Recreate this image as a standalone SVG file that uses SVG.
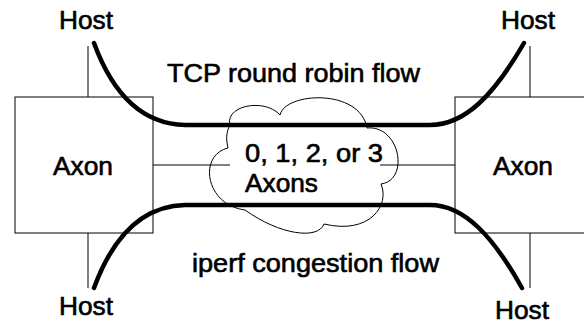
<svg xmlns="http://www.w3.org/2000/svg" width="584" height="324" viewBox="0 0 584 324">
<style>
.t{font-family:"Liberation Sans",Arial,sans-serif;font-size:25px;fill:#000;stroke:#000;stroke-width:0.6}
.thin{stroke:#000;stroke-width:1;fill:none}
.thick{stroke:#000;stroke-width:4.5;fill:none;stroke-linecap:round}
</style>
<rect width="584" height="324" fill="#fff"/>
<g id="connectors">
<line class="thin" x1="88" y1="46" x2="88" y2="97"/>
<line class="thin" x1="88" y1="233" x2="88" y2="288"/>
<line class="thin" x1="530" y1="46" x2="530" y2="97"/>
<line class="thin" x1="530" y1="233" x2="530" y2="288"/>
<line class="thin" x1="153" y1="165" x2="230" y2="165"/>
<line class="thin" x1="380" y1="165" x2="455" y2="165"/>
</g>
<g id="axon-left">
<rect class="thin" x="15" y="97" width="138" height="136" fill="#fff"/>
<text class="t" x="83" y="175" text-anchor="middle" textLength="60" lengthAdjust="spacingAndGlyphs">Axon</text>
</g>
<g id="axon-right">
<rect class="thin" x="455" y="97" width="140" height="136" fill="#fff"/>
<text class="t" x="523" y="175" text-anchor="middle" textLength="60" lengthAdjust="spacingAndGlyphs">Axon</text>
</g>
<g id="cloud">
<path class="thin" fill="#fff" d="M230,125 C225,105 265,98 280,115 C285,92 360,88 367,128 C400,125 410,180 381,184 C390,205 370,235 324,224 C318,240 280,235 245,210 C205,205 198,155 228,148 C226,140 226,132 230,125 Z"/>
<text class="t" x="245" y="162" textLength="138" lengthAdjust="spacingAndGlyphs">0, 1, 2, or 3</text>
<text class="t" x="245" y="192" textLength="73" lengthAdjust="spacingAndGlyphs">Axons</text>
</g>
<g id="flows">
<path class="thick" d="M94,43 C112,92 140,124 185,125 L430,125 C465,125 494,95 524,43"/>
<path class="thick" d="M94,288 C112,239 140,206 185,205 L430,205 C465,205 494,238 522,288"/>
</g>
<g id="host-tl"><text class="t" x="86" y="28.5" text-anchor="middle" textLength="54" lengthAdjust="spacingAndGlyphs">Host</text></g>
<g id="host-tr"><text class="t" x="528" y="28.5" text-anchor="middle" textLength="54" lengthAdjust="spacingAndGlyphs">Host</text></g>
<g id="host-bl"><text class="t" x="86" y="315" text-anchor="middle" textLength="54" lengthAdjust="spacingAndGlyphs">Host</text></g>
<g id="host-br"><text class="t" x="522" y="319" text-anchor="middle" textLength="54" lengthAdjust="spacingAndGlyphs">Host</text></g>
<g id="label-tcp"><text class="t" x="167" y="82" textLength="253" lengthAdjust="spacingAndGlyphs">TCP round robin flow</text></g>
<g id="label-iperf"><text class="t" x="192" y="272" textLength="247" lengthAdjust="spacingAndGlyphs">iperf congestion flow</text></g>
</svg>
